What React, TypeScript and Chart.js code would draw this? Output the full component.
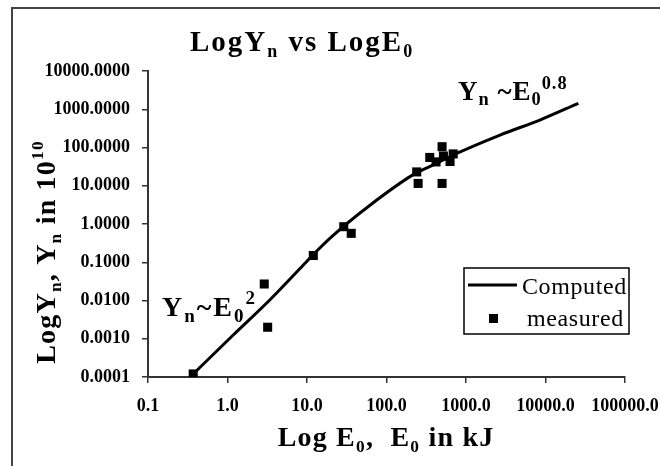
import { useEffect, useRef } from "react";
import { Chart, registerables } from "chart.js";

Chart.register(...registerables);

// Data
const computedE = [0.37, 1.18, 3.4, 9, 12, 20.5, 62, 217, 428, 764, 2680, 8500, 25900];
const computedY = [0.00012, 0.00125, 0.0103, 0.085, 0.16, 0.47, 3.1, 19.5, 38.6, 70, 212, 523, 1430];
const measuredE = [0.37, 2.9, 3.2, 12, 29, 36, 240, 250, 350, 420, 500, 500, 520, 630, 690];
const measuredY = [0.00012, 0.027, 0.002, 0.15, 0.85, 0.57, 23, 11.5, 55, 42, 105, 11.5, 60, 43, 68];
const xTicks = [0.1, 1, 10, 100, 1000, 10000, 100000];
const yTicks = [0.0001, 0.001, 0.01, 0.1, 1, 10, 100, 1000, 10000];

const SERIF = '"Liberation Serif", "Times New Roman", serif';

type Seg = { t: string; s?: "sub" | "sup" };

function drawRich(
  ctx: CanvasRenderingContext2D,
  segs: Seg[],
  x: number,
  y: number,
  size: number,
  weight: string,
  align: "left" | "center",
  spacing = 0,
  scriptRatio = 0.62
) {
  (ctx as any).letterSpacing = `${spacing}px`;
  const parts = segs.map((sg) => {
    const sz = sg.s ? size * scriptRatio : size;
    ctx.font = `${weight} ${sz}px ${SERIF}`;
    return { ...sg, sz, w: ctx.measureText(sg.t).width };
  });
  const total = parts.reduce((a, p) => a + p.w, 0);
  let cx = align === "center" ? x - total / 2 : x;
  ctx.textAlign = "left";
  ctx.textBaseline = "alphabetic";
  for (const p of parts) {
    ctx.font = `${weight} ${p.sz}px ${SERIF}`;
    const dy = p.s === "sub" ? size * 0.2 : p.s === "sup" ? -size * 0.42 : 0;
    ctx.fillText(p.t, cx, y + dy);
    cx += p.w;
  }
  (ctx as any).letterSpacing = "0px";
}

const decorPlugin = {
  id: "decor",
  afterDraw(chart: any) {
    const ctx: CanvasRenderingContext2D = chart.ctx;
    ctx.save();
    ctx.fillStyle = "#000";
    // outer frame (left and top edges visible)
    ctx.strokeStyle = "#444";
    ctx.lineWidth = 2;
    ctx.beginPath();
    ctx.moveTo(12, 466);
    ctx.lineTo(12, 8);
    ctx.lineTo(660, 8);
    ctx.stroke();

    // title
    drawRich(
      ctx,
      [{ t: "Log" }, { t: "Y" }, { t: "n", s: "sub" }, { t: " vs Log" }, { t: "E" }, { t: "0", s: "sub" }],
      302,
      51,
      29,
      "bold",
      "center",
      2
    );
    // x axis title
    drawRich(
      ctx,
      [{ t: "Log E" }, { t: "0", s: "sub" }, { t: ",  E" }, { t: "0", s: "sub" }, { t: " in kJ" }],
      386,
      446,
      28,
      "bold",
      "center",
      1.2
    );
    // y axis title
    ctx.save();
    ctx.translate(55, 252);
    ctx.rotate(-Math.PI / 2);
    drawRich(
      ctx,
      [
        { t: "LogY" },
        { t: "n", s: "sub" },
        { t: ", Y" },
        { t: "n", s: "sub" },
        { t: " in 10" },
        { t: "10", s: "sup" },
      ],
      0,
      0,
      28,
      "bold",
      "center",
      1.2
    );
    ctx.restore();

    // annotations
    drawRich(
      ctx,
      [{ t: "Y" }, { t: "n", s: "sub" }, { t: " ~" }, { t: "E" }, { t: "0", s: "sub" }, { t: "0.8", s: "sup" }],
      458,
      100,
      27,
      "bold",
      "left",
      1,
      0.68
    );
    drawRich(
      ctx,
      [{ t: "Y" }, { t: "n", s: "sub" }, { t: "~" }, { t: "E" }, { t: "0", s: "sub" }, { t: "2", s: "sup" }],
      162,
      316,
      28,
      "bold",
      "left",
      2,
      0.68
    );

    // legend
    ctx.strokeStyle = "#000";
    ctx.lineWidth = 1.5;
    ctx.fillStyle = "#fff";
    ctx.fillRect(464, 268, 165, 66);
    ctx.strokeRect(464, 268, 165, 66);
    ctx.lineWidth = 3;
    ctx.beginPath();
    ctx.moveTo(468, 285);
    ctx.lineTo(517, 285);
    ctx.stroke();
    ctx.fillStyle = "#000";
    ctx.fillRect(489, 314, 9, 9);
    (ctx as any).letterSpacing = "0.6px";
    ctx.font = `24px ${SERIF}`;
    ctx.textAlign = "left";
    ctx.textBaseline = "alphabetic";
    ctx.fillText("Computed", 522, 294);
    ctx.fillText("measured", 527, 326);
    (ctx as any).letterSpacing = "0px";
    ctx.restore();
  },
};

export default function App() {
  const ref = useRef<HTMLCanvasElement | null>(null);
  useEffect(() => {
    if (!ref.current) return;
    const tickFont = { family: SERIF, size: 18, weight: "bold" as const };
    const chart = new Chart(ref.current, {
      type: "scatter",
      data: {
        datasets: [
          {
            label: "Computed",
            data: computedE.map((e, i) => ({ x: e, y: computedY[i] })),
            showLine: true,
            borderColor: "#000",
            borderWidth: 3,
            pointRadius: 0,
            cubicInterpolationMode: "monotone",
          },
          {
            label: "measured",
            data: measuredE.map((e, i) => ({ x: e, y: measuredY[i] })),
            showLine: false,
            pointStyle: "rect",
            pointRadius: 6.4,
            backgroundColor: "#000",
            borderColor: "#000",
            borderWidth: 0,
          },
        ],
      },
      options: {
        responsive: false,
        animation: false,
        layout: { padding: { top: 71, right: 35, left: 0, bottom: 0 } },
        plugins: {
          legend: { display: false },
          title: { display: false },
          tooltip: { enabled: false },
        },
        scales: {
          x: {
            type: "logarithmic",
            min: 0.1,
            max: 100000,
            afterBuildTicks: (s: any) => {
              s.ticks = xTicks.map((v) => ({ value: v }));
            },
            afterFit: (s: any) => {
              s.height = 89;
              s.paddingLeft = 0;
              s.paddingRight = 0;
            },
            ticks: {
              callback: (v: any) => Number(v).toFixed(1),
              font: tickFont,
              color: "#000",
              padding: 13,
              maxRotation: 0,
              autoSkip: false,
            },
            grid: { drawOnChartArea: false, drawTicks: true, tickLength: 6, color: "#333", lineWidth: 1.5 },
            border: { color: "#333", width: 2 },
          },
          y: {
            type: "logarithmic",
            min: 0.0001,
            max: 10000,
            afterBuildTicks: (s: any) => {
              s.ticks = yTicks.map((v) => ({ value: v }));
            },
            afterFit: (s: any) => {
              s.width = 148;
              s.paddingTop = 0;
              s.paddingBottom = 0;
            },
            ticks: {
              callback: (v: any) => Number(v).toFixed(4),
              font: tickFont,
              color: "#000",
              padding: 12,
              autoSkip: false,
            },
            grid: { drawOnChartArea: false, drawTicks: true, tickLength: 6, color: "#333", lineWidth: 1.5 },
            border: { color: "#333", width: 2 },
          },
        },
      },
      plugins: [decorPlugin],
    });
    return () => chart.destroy();
  }, []);
  return (
    <div style={{ position: "fixed", left: 0, top: 0, width: 660, height: 466, background: "#fff" }}>
      <canvas ref={ref} width={660} height={466} />
    </div>
  );
}
